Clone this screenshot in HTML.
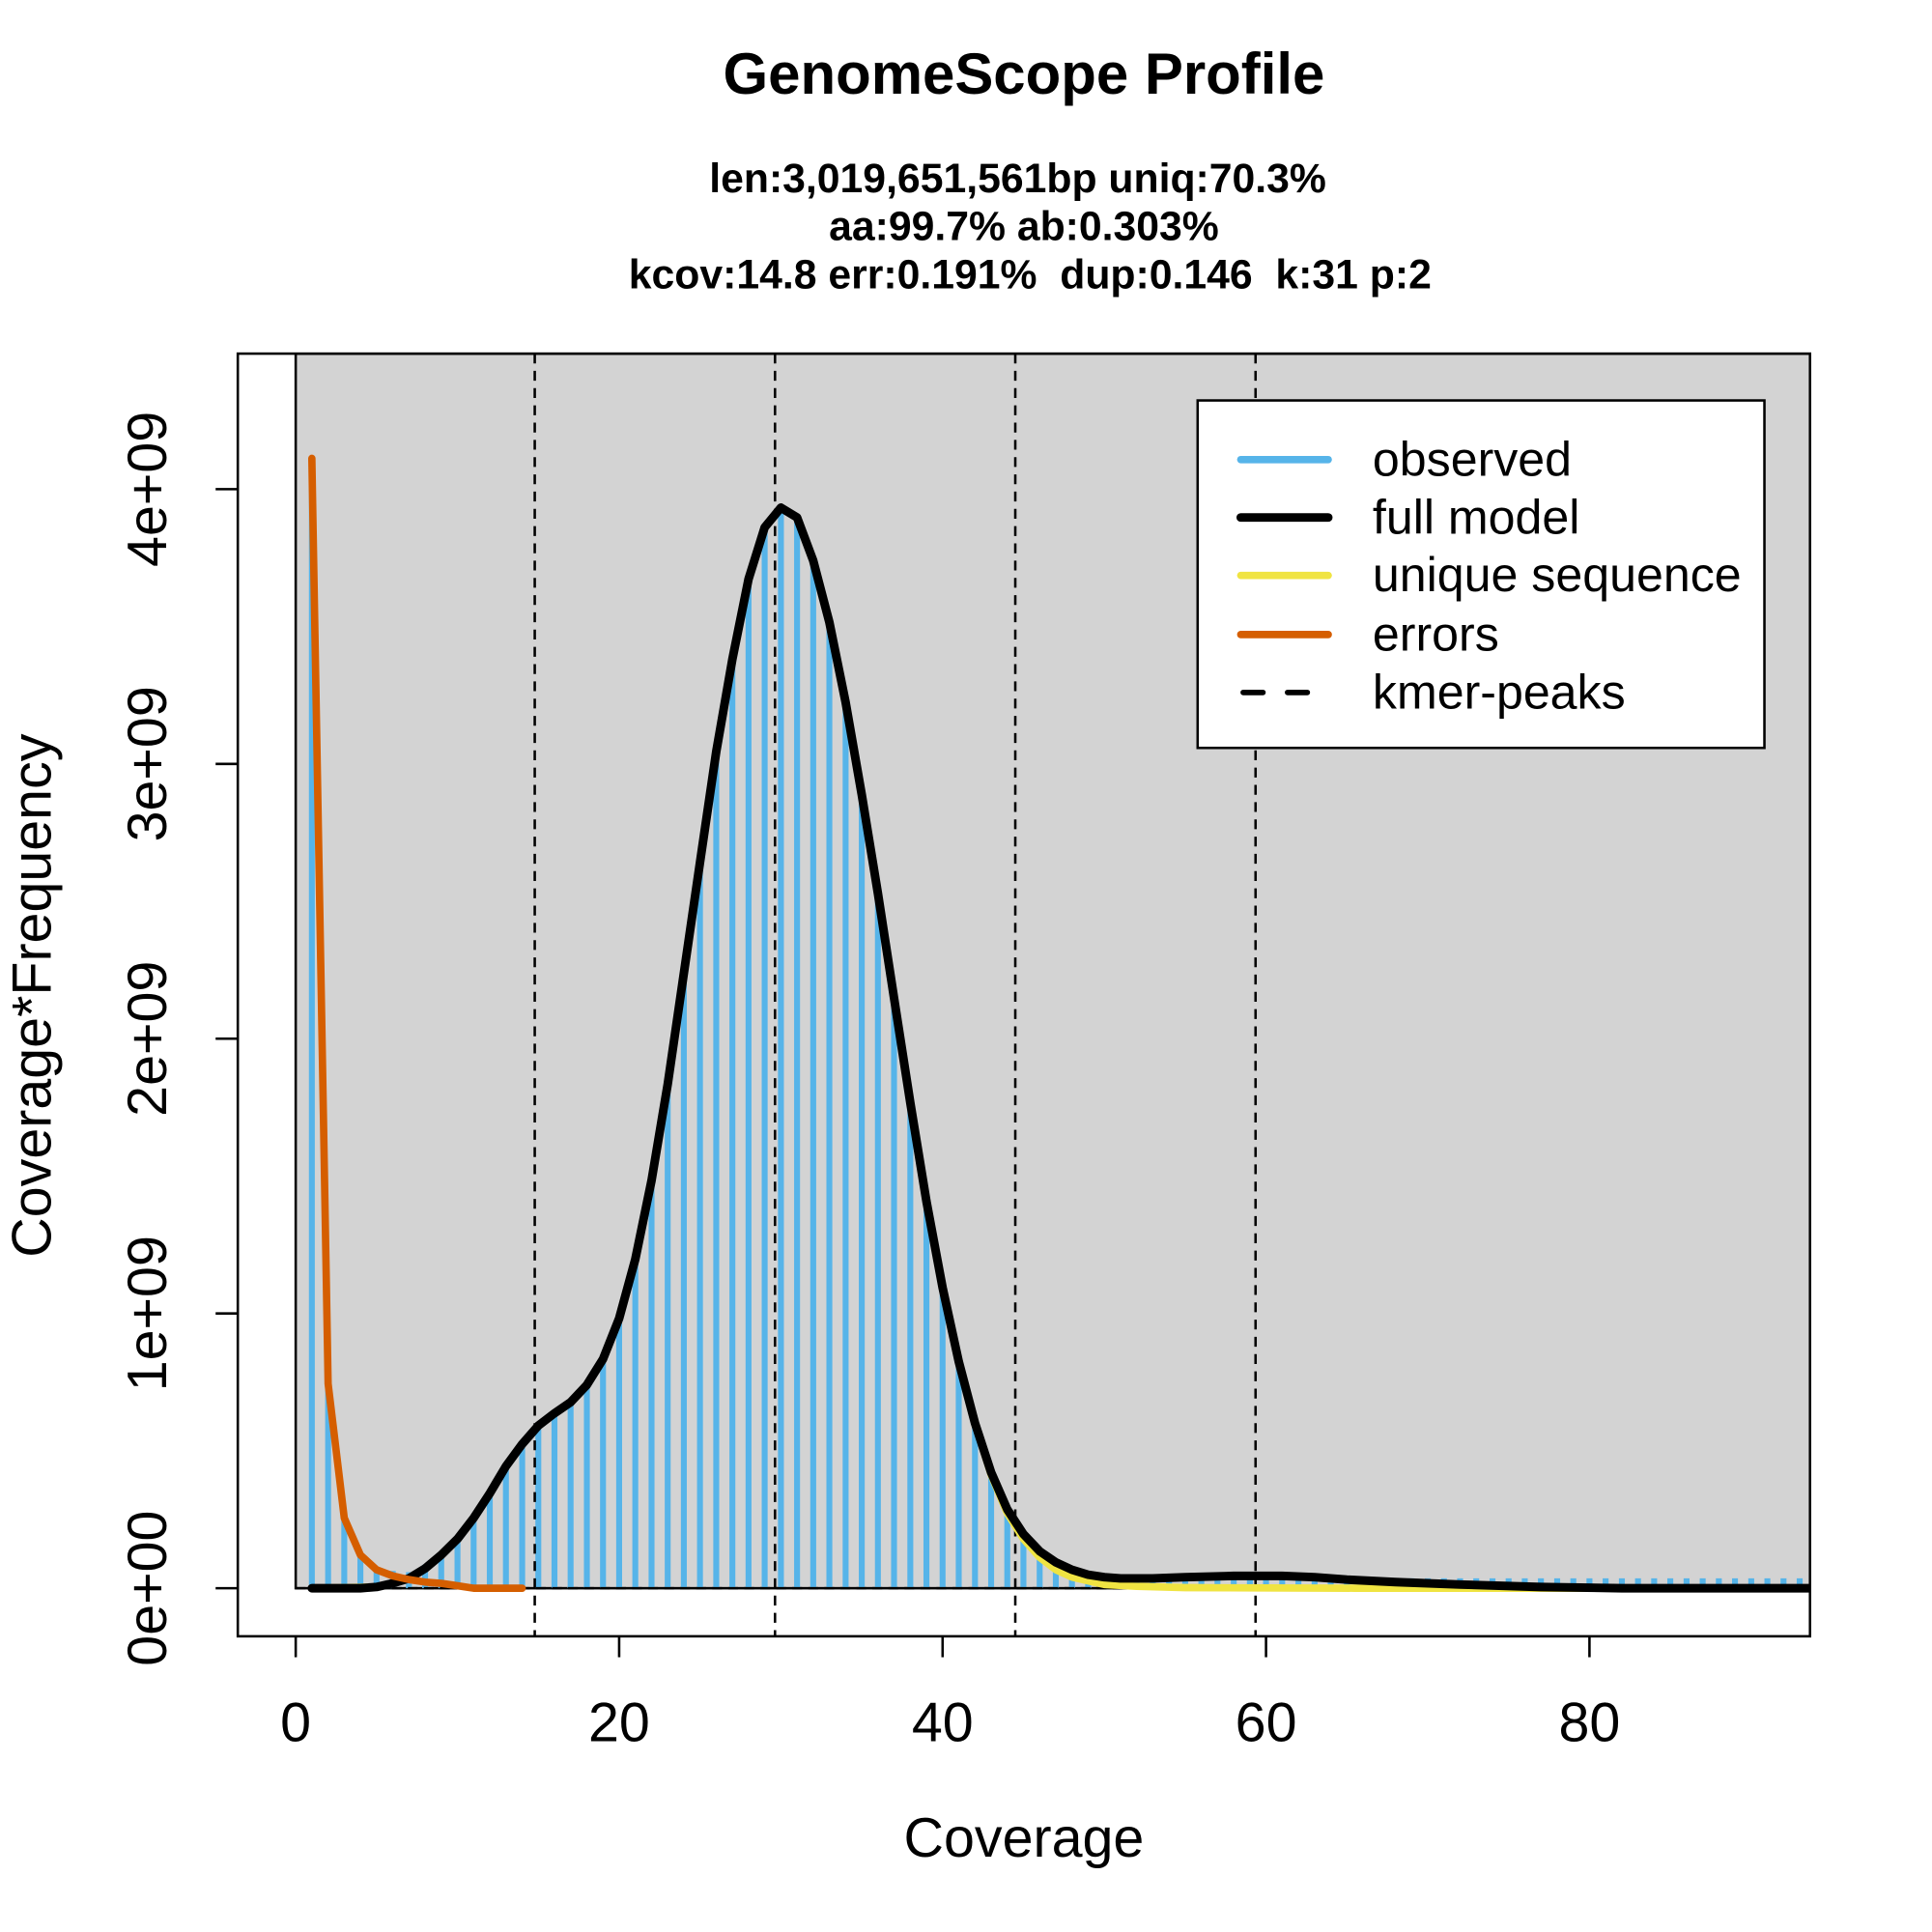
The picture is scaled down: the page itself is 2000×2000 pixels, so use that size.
<!DOCTYPE html>
<html><head><meta charset="utf-8"><style>html,body{margin:0;padding:0;background:#fff}svg{display:block}</style></head>
<body>
<svg width="2000" height="2000" viewBox="0 0 1568 1568" xmlns="http://www.w3.org/2000/svg" font-family="'Liberation Sans', Arial, sans-serif">
<rect x="0" y="0" width="1568" height="1568" fill="#fff"/>
<defs><clipPath id="c"><rect x="193" y="287" width="1276" height="1041"/></clipPath></defs>
<g clip-path="url(#c)">
<rect x="240" y="287" width="1240" height="1002" fill="#d3d3d3" stroke="#000" stroke-width="2"/>
<path stroke="#56B4E9" stroke-width="4.8" fill="none" d="M253.1 1289V372M266.3 1289V1123M279.4 1289V1232M292.5 1289V1262M305.6 1289V1272M318.8 1289V1275M331.9 1289V1276M345 1289V1270M358.1 1289V1260M371.3 1289V1248M384.4 1289V1231M397.5 1289V1211M410.6 1289V1190M423.8 1289V1172M436.9 1289V1157M450 1289V1147M463.1 1289V1138M476.3 1289V1124M489.4 1289V1103M502.5 1289V1070M515.6 1289V1022M528.8 1289V958M541.9 1289V880M555 1289V790M568.1 1289V700M581.3 1289V610M594.4 1289V535M607.5 1289V470M620.6 1289V428M633.8 1289V412M646.9 1289V420M660 1289V455M673.1 1289V505M686.3 1289V570M699.4 1289V645M712.5 1289V725M725.6 1289V810M738.8 1289V895M751.9 1289V975M765 1289V1045M778.1 1289V1105M791.3 1289V1155M804.4 1289V1195M817.5 1289V1225M830.6 1289V1245M843.8 1289V1259M856.9 1289V1268M870 1289V1273M883.1 1289V1276M896.3 1289V1279M909.4 1289V1280M922.5 1289V1281M935.6 1289V1281M948.8 1289V1281M961.9 1289V1281M975 1289V1281M988.1 1289V1281M1001.3 1289V1281M1014.4 1289V1281M1027.5 1289V1281M1040.6 1289V1281M1053.8 1289V1281M1066.9 1289V1281M1080 1289V1281M1093.1 1289V1281M1106.3 1289V1281M1119.4 1289V1281M1132.5 1289V1281M1145.6 1289V1281M1158.8 1289V1281M1171.9 1289V1281M1185 1289V1281M1198.1 1289V1281M1211.3 1289V1281M1224.4 1289V1281M1237.5 1289V1281M1250.6 1289V1281M1263.8 1289V1281M1276.9 1289V1281M1290 1289V1281M1303.1 1289V1281M1316.3 1289V1281M1329.4 1289V1281M1342.5 1289V1281M1355.6 1289V1281M1368.8 1289V1281M1381.9 1289V1281M1395 1289V1281M1408.1 1289V1281M1421.3 1289V1281M1434.4 1289V1281M1447.5 1289V1281M1460.6 1289V1281"/>
<line x1="240" y1="1289" x2="1469" y2="1289" stroke="#000" stroke-width="2" stroke-dasharray="8,5"/>
<g stroke="#000" stroke-width="2" stroke-dasharray="8,6">
<line x1="434" y1="287" x2="434" y2="1328"/><line x1="629" y1="287" x2="629" y2="1328"/>
<line x1="824" y1="287" x2="824" y2="1328"/><line x1="1019" y1="287" x2="1019" y2="1328"/>
</g>
<polyline fill="none" stroke="#F0E442" stroke-width="6" stroke-linejoin="round" stroke-linecap="round" points="253.1,1289 305.6,1288 318.8,1285 331.9,1281 345,1273 358.1,1262 371.3,1249 384.4,1232 397.5,1212 410.6,1190 423.8,1172 436.9,1157 450,1147 463.1,1138 476.3,1124 489.4,1103 502.5,1070 515.6,1022 528.8,958 541.9,880 555,790 568.1,700 581.3,610 594.4,535 607.5,470 620.6,428 633.8,412 646.9,420 660,455 673.1,505 686.3,570 699.4,645 712.5,725 725.6,810 738.8,895 751.9,975 765,1045 778.1,1105 791.3,1155 804.4,1197 817.5,1228 830.6,1249 843.8,1264 856.9,1274 870,1280 883.1,1283 896.3,1286 922.5,1287.5 961.9,1288.5 1100,1289 1469,1289"/>
<polyline fill="none" stroke="#000" stroke-width="7" stroke-linejoin="round" stroke-linecap="round" points="253.1,1289 292.5,1289 305.6,1288 318.8,1285 331.9,1281 345,1273 358.1,1262 371.3,1249 384.4,1232 397.5,1212 410.6,1190 423.8,1172 436.9,1157 450,1147 463.1,1138 476.3,1124 489.4,1103 502.5,1070 515.6,1022 528.8,958 541.9,880 555,790 568.1,700 581.3,610 594.4,535 607.5,470 620.6,428 633.8,412 646.9,420 660,455 673.1,505 686.3,570 699.4,645 712.5,725 725.6,810 738.8,895 751.9,975 765,1045 778.1,1105 791.3,1155 804.4,1195 817.5,1225 830.6,1245 843.8,1259 856.9,1268 870,1274 883.1,1278 896.3,1280 909.4,1281 935.6,1281 961.9,1280 1001.3,1279 1040.6,1279 1066.9,1280 1093.1,1282 1132.5,1284 1185,1286 1250.6,1288 1316.3,1289 1469,1289"/>
<polyline fill="none" stroke="#D55E00" stroke-width="6" stroke-linejoin="round" stroke-linecap="round" points="253.1,372 266.3,1123 279.4,1232 292.5,1262 305.6,1274 318.8,1279 331.9,1282 345,1284 358.1,1285 371.3,1287 384.4,1289 397.5,1289 410.6,1289 423.8,1289"/>
</g>
<rect x="193" y="287" width="1276" height="1041" fill="none" stroke="#000" stroke-width="2"/>
<g stroke="#000" stroke-width="2">
<line x1="240" y1="1328" x2="240" y2="1345"/><line x1="502.5" y1="1328" x2="502.5" y2="1345"/><line x1="765" y1="1328" x2="765" y2="1345"/><line x1="1027.5" y1="1328" x2="1027.5" y2="1345"/><line x1="1290" y1="1328" x2="1290" y2="1345"/>
<line x1="193" y1="1289" x2="175" y2="1289"/><line x1="193" y1="1066" x2="175" y2="1066"/><line x1="193" y1="843" x2="175" y2="843"/><line x1="193" y1="620" x2="175" y2="620"/><line x1="193" y1="397" x2="175" y2="397"/>
</g>
<g font-size="45" text-anchor="middle" fill="#000">
<text x="240" y="1413">0</text><text x="502.5" y="1413">20</text><text x="765" y="1413">40</text><text x="1027.5" y="1413">60</text><text x="1290" y="1413">80</text>
<text transform="translate(135,1289) rotate(-90)">0e+00</text>
<text transform="translate(135,1066) rotate(-90)">1e+09</text>
<text transform="translate(135,843) rotate(-90)">2e+09</text>
<text transform="translate(135,620) rotate(-90)">3e+09</text>
<text transform="translate(135,397) rotate(-90)">4e+09</text>
<text x="831" y="1507">Coverage</text>
<text transform="translate(41,808) rotate(-90)">Coverage*Frequency</text>
</g>
<g text-anchor="middle" font-weight="bold" fill="#000">
<text x="831" y="76" font-size="47">GenomeScope Profile</text>
<text x="826" y="156" font-size="33.5">len:3,019,651,561bp uniq:70.3%</text>
<text x="831" y="195" font-size="33.5">aa:99.7% ab:0.303%</text>
<text x="836" y="234" font-size="33.5" xml:space="preserve">kcov:14.8 err:0.191%  dup:0.146  k:31 p:2</text>
</g>
<rect x="972" y="325" width="460" height="282" fill="#fff" stroke="#000" stroke-width="2"/>
<g stroke-width="6" stroke-linecap="round">
<line x1="1007" y1="373" x2="1078" y2="373" stroke="#56B4E9"/>
<line x1="1007" y1="420" x2="1078" y2="420" stroke="#000" stroke-width="7"/>
<line x1="1007" y1="467" x2="1078" y2="467" stroke="#F0E442"/>
<line x1="1007" y1="515" x2="1078" y2="515" stroke="#D55E00"/>
<line x1="1009" y1="562" x2="1078" y2="562" stroke="#000" stroke-width="4.5" stroke-dasharray="16,20" stroke-linecap="round"/>
</g>
<g font-size="39.3" fill="#000">
<text x="1114" y="386">observed</text><text x="1114" y="433">full model</text><text x="1114" y="480">unique sequence</text><text x="1114" y="528">errors</text><text x="1114" y="575">kmer-peaks</text>
</g>
</svg>
</body></html>
